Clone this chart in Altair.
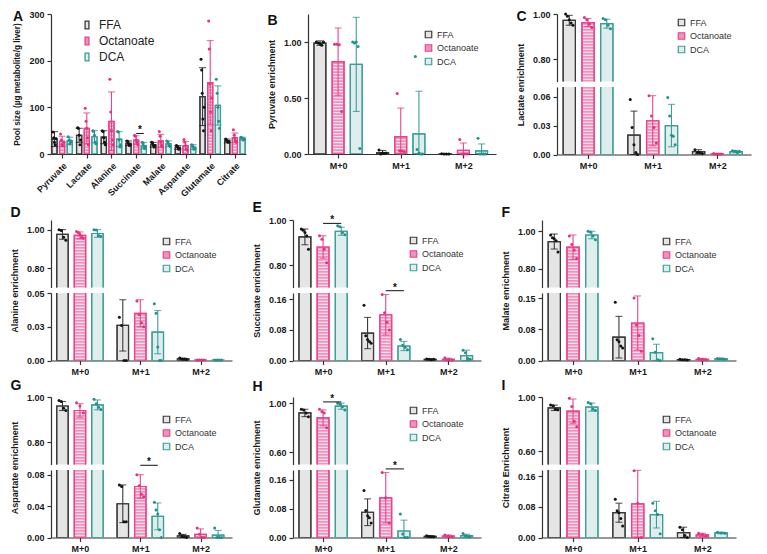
import altair as alt
import pandas as pd
import numpy as np

FONT = "Liberation Sans"
conds = ["FFA", "Octanoate", "DCA"]
fill_colors = ["#e5e5e5", "#f28fba", "#e0eded"]
line_colors = ["#3a3a3a", "#e8448c", "#3b9e99"]
dot_colors = ["#141414", "#e3337f", "#23918c"]

pool_groups = ["Pyruvate", "Lactate", "Alanine", "Succinate", "Malate", "Aspartate", "Glutamate", "Citrate"]
iso_groups = ["M+0", "M+1", "M+2"]

# ---------------- Panel A: pool sizes ----------------
pool_mean = {"FFA": [32, 40, 36, 23, 20, 14, 123, 28],
             "Octanoate": [27, 55, 70, 30, 28, 18, 153, 35],
             "DCA": [28, 37, 32, 18, 22, 15, 104, 33]}
pool_sd = {"FFA": [16, 15, 14, 5, 5, 4, 62, 4],
           "Octanoate": [11, 33, 63, 9, 14, 9, 90, 10],
           "DCA": [8, 13, 16, 7, 6, 5, 42, 3]}
pool_pts = {"FFA": [[47, 35, 25, 20, 33], [56, 55, 40, 20, 30], [50, 48, 35, 25, 20], [28, 27, 22, 18, 20],
                    [25, 24, 20, 15, 18], [18, 17, 14, 10, 12], [203, 180, 130, 75, 50, 100], [32, 30, 28, 25, 26]],
            "Octanoate": [[43, 30, 20, 18, 25], [98, 70, 55, 35, 20], [160, 90, 50, 30, 20], [40, 38, 30, 25, 20],
                          [48, 38, 25, 18, 15], [31, 25, 18, 10, 8], [285, 225, 150, 90, 50, 120], [52, 40, 33, 28, 25]],
            "DCA": [[37, 30, 22, 25, 28], [50, 48, 40, 25, 22], [48, 47, 30, 15, 20], [25, 22, 15, 12, 16],
                    [28, 26, 22, 18, 16], [20, 19, 15, 10, 12], [160, 130, 100, 70, 55], [36, 35, 33, 30, 32]]}
pool_stars = [(3, 44)]

# ---------------- Panel B: pyruvate ----------------
pyr_mean = {"FFA": [0.99, 0.012, 0.001], "Octanoate": [0.825, 0.155, 0.033], "DCA": [0.80, 0.18, 0.028]}
pyr_sd = {"FFA": [0.02, 0.02, 0.001], "Octanoate": [0.30, 0.255, 0.065], "DCA": [0.42, 0.38, 0.062]}
pyr_pts = {"FFA": [[1.0, 0.99, 0.985, 0.97, 1.0], [0.035, 0.0, 0.01, 0.005, 0.01], [0.002, 0.0, 0.001, 0.0]],
           "Octanoate": [[0.98, 0.98, 0.975, 0.38], [0.54, 0.03, 0.03, 0.02], [0.13, 0.0, 0.0, 0.0]],
           "DCA": [[1.0, 0.99, 1.0, 0.96, 0.05], [0.87, 0.04, 0.01, 0.0, 0.0], [0.14, 0.0, 0.0, 0.0, 0.0]]}

# ---------------- Panel C: lactate ----------------
lac_mean = {"FFA": [0.972, 0.020, 0.003], "Octanoate": [0.962, 0.035, 0.0006], "DCA": [0.957, 0.030, 0.003]}
lac_sd = {"FFA": [0.022, 0.025, 0.002], "Octanoate": [0.018, 0.026, 0.0003], "DCA": [0.02, 0.022, 0.0012]}
lac_pts = {"FFA": [[1.0, 0.99, 0.975, 0.96, 0.95], [0.057, 0.028, 0.01, 0.002, 0.0], [0.005, 0.002, 0.002, 0.001]],
           "Octanoate": [[0.985, 0.975, 0.955, 0.94], [0.061, 0.04, 0.028, 0.012], [0.001, 0.0005, 0.0005, 0.0005]],
           "DCA": [[0.98, 0.975, 0.95, 0.935], [0.059, 0.04, 0.02, 0.019, 0.01], [0.004, 0.0035, 0.002, 0.003]]}

# ---------------- Panel D: alanine ----------------
ala_mean = {"FFA": [0.975, 0.026, 0.0012], "Octanoate": [0.97, 0.035, 0.0003], "DCA": [0.98, 0.021, 0.0003]}
ala_sd = {"FFA": [0.025, 0.019, 0.0006], "Octanoate": [0.018, 0.01, 0.0001], "DCA": [0.02, 0.016, 0.0001]}
ala_pts = {"FFA": [[1.0, 0.995, 0.96, 0.945], [0.032, 0.026, 0.0, 0.0], [0.0018, 0.0012, 0.001, 0.0008]],
           "Octanoate": [[0.99, 0.985, 0.975, 0.96, 0.955], [0.044, 0.034, 0.028, 0.025], [0.0003, 0.0003, 0.0003, 0.0003]],
           "DCA": [[1.0, 0.998, 0.97, 0.965], [0.042, 0.035, 0.01, 0.0, 0.0], [0.0003, 0.0003, 0.0003, 0.0003]]}

# ---------------- Panel E: succinate ----------------
suc_mean = {"FFA": [0.925, 0.072, 0.003], "Octanoate": [0.88, 0.12, 0.003], "DCA": [0.95, 0.038, 0.013]}
suc_sd = {"FFA": [0.035, 0.041, 0.001], "Octanoate": [0.05, 0.053, 0.003], "DCA": [0.018, 0.012, 0.014]}
suc_pts = {"FFA": [[0.96, 0.955, 0.945, 0.93, 0.87], [0.145, 0.065, 0.055, 0.05, 0.045], [0.004, 0.003, 0.002, 0.003]],
           "Octanoate": [[0.93, 0.915, 0.87, 0.81], [0.173, 0.125, 0.1, 0.08], [0.007, 0.003, 0.001]],
           "DCA": [[0.975, 0.97, 0.945, 0.935], [0.055, 0.04, 0.035, 0.028], [0.027, 0.02, 0.005, 0.003]]}
suc_stars = [(0, 0.985), (1, 0.183)]

# ---------------- Panel F: malate ----------------
mal_mean = {"FFA": [0.945, 0.056, 0.002], "Octanoate": [0.915, 0.09, 0.003], "DCA": [0.98, 0.019, 0.004]}
mal_sd = {"FFA": [0.04, 0.05, 0.001], "Octanoate": [0.065, 0.065, 0.002], "DCA": [0.02, 0.02, 0.001]}
mal_pts = {"FFA": [[0.98, 0.965, 0.96, 0.95, 0.89], [0.14, 0.05, 0.045, 0.035, 0.03], [0.003, 0.002, 0.002, 0.001]],
           "Octanoate": [[0.975, 0.93, 0.9, 0.855], [0.15, 0.085, 0.06, 0.022], [0.005, 0.003, 0.002]],
           "DCA": [[1.0, 0.995, 0.975, 0.955], [0.052, 0.02, 0.002, 0.0], [0.005, 0.004, 0.004, 0.003]]}

# ---------------- Panel G: aspartate ----------------
asp_mean = {"FFA": [0.96, 0.043, 0.002], "Octanoate": [0.94, 0.065, 0.004], "DCA": [0.965, 0.027, 0.003]}
asp_sd = {"FFA": [0.02, 0.024, 0.002], "Octanoate": [0.03, 0.015, 0.007], "DCA": [0.022, 0.017, 0.006]}
asp_pts = {"FFA": [[0.985, 0.98, 0.95, 0.94], [0.067, 0.065, 0.02, 0.02], [0.005, 0.002, 0.001, 0.0]],
           "Octanoate": [[0.975, 0.96, 0.93], [0.08, 0.066, 0.055, 0.052], [0.012, 0.004, 0.0, 0.0]],
           "DCA": [[0.99, 0.97, 0.955, 0.945], [0.045, 0.035, 0.03, 0.01, 0.0], [0.012, 0.0, 0.0, 0.0]]}
asp_stars = [(1, 0.092)]

# ---------------- Panel H: glutamate ----------------
glu_mean = {"FFA": [0.92, 0.07, 0.003], "Octanoate": [0.88, 0.11, 0.004], "DCA": [0.975, 0.018, 0.005]}
glu_sd = {"FFA": [0.03, 0.037, 0.002], "Octanoate": [0.065, 0.07, 0.003], "DCA": [0.025, 0.03, 0.004]}
glu_pts = {"FFA": [[0.95, 0.945, 0.92, 0.89], [0.13, 0.075, 0.06, 0.055, 0.04], [0.005, 0.003, 0.002, 0.002]],
           "Octanoate": [[0.95, 0.93, 0.92, 0.8], [0.18, 0.11, 0.04], [0.007, 0.004, 0.002]],
           "DCA": [[1.0, 0.99, 0.97, 0.945], [0.065, 0.01, 0.0, 0.0], [0.011, 0.005, 0.002, 0.002]]}
glu_stars = [(0, 1.01), (1, 0.19)]

# ---------------- Panel I: citrate ----------------
cit_mean = {"FFA": [0.92, 0.065, 0.013], "Octanoate": [0.895, 0.088, 0.007], "DCA": [0.925, 0.06, 0.012]}
cit_sd = {"FFA": [0.02, 0.025, 0.014], "Octanoate": [0.09, 0.088, 0.004], "DCA": [0.03, 0.035, 0.002]}
cit_pts = {"FFA": [[0.94, 0.935, 0.91, 0.905], [0.1, 0.07, 0.065, 0.05, 0.03], [0.027, 0.02, 0.005, 0.0]],
           "Octanoate": [[0.99, 0.93, 0.82, 0.78], [0.175, 0.09, 0.0], [0.011, 0.008, 0.003]],
           "DCA": [[0.96, 0.95, 0.91, 0.9], [0.09, 0.07, 0.06, 0.01], [0.014, 0.012, 0.011]]}

# ---------------- helpers ----------------
RES = dict(x="independent", y="independent", color="independent", fill="independent", stroke="independent")


def build(groups, mean, sd, pts, off, bw):
    bars, dots = [], []
    for g in range(len(groups)):
        for c, cond in enumerate(conds):
            xc = g + (c - 1) * off
            m, s = mean[cond][g], sd[cond][g]
            bars.append({"g": g, "cond": cond, "x": xc, "x1": xc - bw / 2, "x2": xc + bw / 2,
                         "mean": m, "base": 0.0, "lo": max(m - s, 0.0), "hi": m + s})
            vals = pts[cond][g]
            n = len(vals)
            for j, v in enumerate(vals):
                dx = 0.0 if n == 1 else (j / (n - 1) - 0.5) * bw * 0.6
                dots.append({"g": g, "cond": cond, "xp": xc + dx, "value": v})
    return pd.DataFrame(bars), pd.DataFrame(dots)


def star_df(stars, off):
    rows = [{"g": g, "sx1": g, "sx2": g + off, "xm": g + off / 2, "sy": y} for g, y in stars]
    return pd.DataFrame(rows, columns=["g", "sx1", "sx2", "xm", "sy"])


def stripe_df(bars, ydom, h, xdom, w):
    step = (ydom[1] - ydom[0]) * 3.0 / h
    thick = step / 3.0
    inset = (xdom[1] - xdom[0]) * 1.0 / w
    rows = []
    for r in bars[bars["cond"] == "Octanoate"].itertuples():
        top = min(r.mean, ydom[1])
        start = max(ydom[0], 0.0)
        for v in np.arange(start + step * 0.6, top - thick, step):
            rows.append({"sx1": r.x1 + inset, "sx2": r.x2 - inset, "sy1": v, "sy2": v + thick})
    return pd.DataFrame(rows, columns=["sx1", "sx2", "sy1", "sy2"])


def mk_legend(x, y, big=False):
    if big:
        return alt.Legend(orient="none", legendX=x, legendY=y, title=None,
                          symbolType="M-0.5,-1L0.5,-1L0.5,1L-0.5,1Z", symbolSize=60,
                          symbolStrokeWidth=1.3, labelFontSize=12, labelFont=FONT,
                          rowPadding=2, labelColor="#222222", labelOffset=6)
    return alt.Legend(orient="none", legendX=x, legendY=y, title=None, symbolType="square",
                      symbolSize=42, symbolStrokeWidth=1.2, labelFontSize=9, labelFont=FONT,
                      rowPadding=0.5, labelColor="#333333", labelOffset=4)


def subpanel(bars, errs, dots, stars, groups, ydom, yticks, w, h, xdom, show_x, ytitle,
             legend, title_y=None, angle=0, yfmt="f2", title_size=9):
    xscale = alt.Scale(domain=xdom, nice=False, zero=False)
    yscale = alt.Scale(domain=ydom, nice=False, zero=False)
    if show_x:
        arr = "[" + ",".join("'" + n + "'" for n in groups) + "]"
        xaxis = alt.Axis(values=list(range(len(groups))), labelExpr=arr + "[datum.value]",
                         title=None, labelAngle=angle, labelFontSize=9, labelOverlap=False)
    else:
        xaxis = None
    ykw = dict(values=yticks, title=ytitle, titleFontSize=title_size)
    if yfmt == "d":
        ykw["format"] = "d"
    else:
        ykw["labelExpr"] = "format(datum.value + 1e-9, '.2f')"
    if title_y is not None:
        ykw["titleY"] = title_y
    yaxis = alt.Axis(**ykw)

    def X(f):
        return alt.X(f, type="quantitative", scale=xscale, axis=xaxis)

    def Y(f):
        return alt.Y(f, type="quantitative", scale=yscale, axis=yaxis)

    fill_enc = alt.Fill("cond:N", scale=alt.Scale(domain=conds, range=fill_colors), legend=legend)
    stroke_enc = alt.Stroke("cond:N", scale=alt.Scale(domain=conds, range=line_colors), legend=legend)
    color_enc = alt.Color("cond:N", scale=alt.Scale(domain=conds, range=dot_colors), legend=None)

    layers = [alt.Chart(bars).mark_bar(clip=True, strokeWidth=1.2).encode(
        x=X("x1"), x2=alt.X2("x2"), y=Y("mean"), y2=alt.Y2("base"), fill=fill_enc, stroke=stroke_enc)]
    st = stripe_df(bars, ydom, h, xdom, w)
    if len(st):
        layers.append(alt.Chart(st).mark_bar(clip=True, color="white", opacity=0.95, strokeWidth=0).encode(
            x=X("sx1"), x2=alt.X2("sx2"), y=Y("sy1"), y2=alt.Y2("sy2")))
    layers.append(alt.Chart(bars).mark_bar(clip=True, strokeWidth=1.2, fillOpacity=0).encode(
        x=X("x1"), x2=alt.X2("x2"), y=Y("mean"), y2=alt.Y2("base"), stroke=stroke_enc))
    if len(errs):
        layers.append(alt.Chart(errs).mark_rule(strokeWidth=1.1).encode(
            x=X("x"), y=Y("lo"), y2=alt.Y2("hi"), stroke=stroke_enc))
        layers.append(alt.Chart(errs).mark_tick(orient="horizontal", size=7, thickness=1.1).encode(
            x=X("x"), y=Y("hi"), color=color_enc))
        layers.append(alt.Chart(errs).mark_tick(orient="horizontal", size=7, thickness=1.1).encode(
            x=X("x"), y=Y("lo"), color=color_enc))
    if len(dots):
        layers.append(alt.Chart(dots).mark_circle(size=9, opacity=1).encode(
            x=X("xp"), y=Y("value"), color=color_enc))
    if len(stars):
        layers.append(alt.Chart(stars).mark_rule(color="#111111", strokeWidth=1).encode(
            x=X("sx1"), x2=alt.X2("sx2"), y=Y("sy")))
        layers.append(alt.Chart(stars).mark_text(text="*", fontSize=10, dy=-3, font=FONT,
                                                 fontWeight="bold", color="#111111").encode(
            x=X("xm"), y=Y("sy")))
    return alt.layer(*layers).properties(width=w, height=h)


H_FULL = 140
H_HALF = 67.5
GAP = 5
OFF = 0.29
BW = 0.19
XDOM = [-0.48, 2.52]


def letter_title(letter, row1):
    return alt.TitleParams(text=letter, anchor="start", offset=-14 if row1 else 0, fontSize=14,
                           fontWeight="bold", font=FONT, color="#111111")


def iso_panel(letter, ytitle, mean, sd, pts, stars, upper, lower, w, leg_y, row1=False):
    bars, dots = build(iso_groups, mean, sd, pts, OFF, BW)
    sdf = star_df(stars, OFF)
    legend = mk_legend(int(0.64 * w) - 4, leg_y)
    if upper is None:
        ydom, yt = lower
        ch = subpanel(bars, bars, dots, sdf, iso_groups, ydom, yt, w, H_FULL, XDOM, True, ytitle, legend)
        return ch.properties(title=letter_title(letter, row1))
    up = subpanel(bars[bars.g == 0], bars[bars.g == 0], dots[dots.g == 0], sdf[sdf.g == 0], iso_groups,
                  upper[0], upper[1], w, H_HALF, XDOM, False, None, legend)
    lo = subpanel(bars, bars[bars.g > 0], dots[dots.g > 0], sdf[sdf.g > 0], iso_groups,
                  lower[0], lower[1], w, H_HALF, XDOM, True, ytitle, None, title_y=-GAP / 2)
    return alt.vconcat(up, lo, spacing=GAP, bounds="flush",
                       title=letter_title(letter, row1)).resolve_scale(**RES)


# Panel A
WA = 195
a_bars, a_dots = build(pool_groups, pool_mean, pool_sd, pool_pts, 0.31, 0.21)
panelA = subpanel(a_bars, a_bars, a_dots, star_df(pool_stars, 0.31), pool_groups, [0, 300],
                  [0, 100, 200, 300], WA, H_FULL, [-0.45, 7.45], True,
                  "Pool size (µg metabolite/g liver)", mk_legend(30, 5, big=True),
                  angle=-45, yfmt="d", title_size=8.2).properties(title=letter_title("A", True))

W1, W2, W3 = 181, 188, 194
panelB = iso_panel("B", "Pyruvate enrichment", pyr_mean, pyr_sd, pyr_pts, [], None,
                   ([0, 1.25], [0, 0.5, 1.0]), W2, 16, row1=True)
panelC = iso_panel("C", "Lactate enrichment", lac_mean, lac_sd, lac_pts, [],
                   ([0.7, 1.0], [0.8, 1.0]), ([0, 0.07], [0, 0.03, 0.06]), W3, 4, row1=True)
panelD = iso_panel("D", "Alanine enrichment", ala_mean, ala_sd, ala_pts, [],
                   ([0.7, 1.05], [0.8, 1.0]), ([0, 0.05], [0, 0.025, 0.05]), W1, 17)
panelE = iso_panel("E", "Succinate enrichment", suc_mean, suc_sd, suc_pts, suc_stars,
                   ([0.7, 1.0], [0.8, 1.0]), ([0, 0.177], [0, 0.08, 0.16]), W2, 16)
panelF = iso_panel("F", "Malate enrichment", mal_mean, mal_sd, mal_pts, [],
                   ([0.7, 1.06], [0.8, 1.0]), ([0, 0.162], [0, 0.075, 0.15]), W3, 17)
panelG = iso_panel("G", "Aspartate enrichment", asp_mean, asp_sd, asp_pts, asp_stars,
                   ([0.7, 1.0], [0.8, 1.0]), ([0, 0.086], [0, 0.04, 0.08]), W1, 18)
panelH = iso_panel("H", "Glutamate enrichment", glu_mean, glu_sd, glu_pts, glu_stars,
                   ([0.5, 1.05], [0.6, 1.0]), ([0, 0.187], [0, 0.08, 0.16]), W2, 9)
panelI = iso_panel("I", "Citrate Enrichment", cit_mean, cit_sd, cit_pts, [],
                   ([0.5, 1.0], [0.6, 1.0]), ([0, 0.177], [0, 0.08, 0.16]), W3, 18)

row1 = alt.hconcat(panelA, panelB, panelC, spacing=20).resolve_scale(**RES)
row2 = alt.hconcat(panelD, panelE, panelF, spacing=20).resolve_scale(**RES)
row3 = alt.hconcat(panelG, panelH, panelI, spacing=20).resolve_scale(**RES)

chart = alt.vconcat(row1, row2, row3, spacing=2).resolve_scale(**RES).properties(
    padding={"left": 2, "top": 2, "right": 2, "bottom": 2}
).configure_view(stroke=None).configure_axis(
    labelFont=FONT, titleFont=FONT, labelFontWeight="bold", titleFontWeight="bold",
    labelFontSize=9, titleFontSize=9, labelColor="#1a1a1a", titleColor="#1a1a1a",
    domainColor="#333333", tickColor="#333333", domainWidth=1.2, tickWidth=1.2,
    tickSize=4, labelPadding=3, titlePadding=7, grid=False
).configure_legend(labelFont=FONT)

chart.save("out.html", embed_options={"renderer": "svg", "actions": False})
